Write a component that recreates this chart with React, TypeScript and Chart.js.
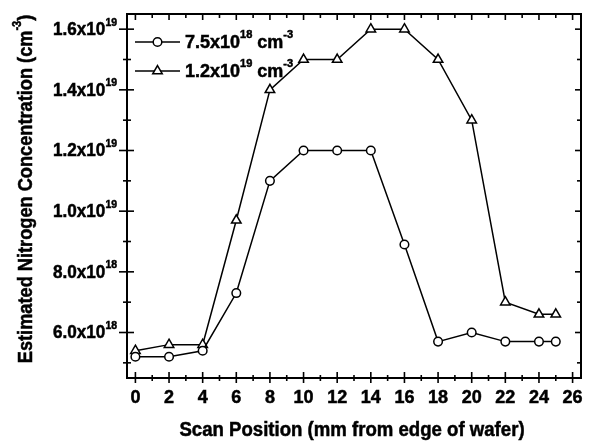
import { useEffect, useRef } from 'react';
import { Chart, registerables } from 'chart.js';

Chart.register(...registerables);

// ---- data ----
const scanPositions = [0, 2, 4, 6, 8, 10, 12, 14, 16, 18, 20, 22, 24, 25];
const conc75e18 = [5.2e18, 5.2e18, 5.4e18, 7.3e18, 1.1e19, 1.2e19, 1.2e19, 1.2e19, 8.9e18, 5.7e18, 6.0e18, 5.7e18, 5.7e18, 5.7e18];
const conc12e19 = [5.4e18, 5.6e18, 5.6e18, 9.7e18, 1.4e19, 1.5e19, 1.5e19, 1.6e19, 1.6e19, 1.5e19, 1.3e19, 7.0e18, 6.6e18, 6.6e18];

const xMajorTicks = [0, 2, 4, 6, 8, 10, 12, 14, 16, 18, 20, 22, 24, 26];
const xMinorTicks = [1, 3, 5, 7, 9, 11, 13, 15, 17, 19, 21, 23, 25];
const yMajorTicks = [6e18, 8e18, 1e19, 1.2e19, 1.4e19, 1.6e19];
const yMinorTicks = [5e18, 7e18, 9e18, 1.1e19, 1.3e19, 1.5e19];
const yTickMantissa = ['6.0x10', '8.0x10', '1.0x10', '1.2x10', '1.4x10', '1.6x10'];
const yTickExponent = ['18', '18', '19', '19', '19', '19'];

const legendMantissa = ['7.5x10', '1.2x10'];
const legendExponent = ['18', '19'];
const xTitle = 'Scan Position (mm from edge of wafer)';
const yTitle = 'Estimated Nitrogen Concentration (cm';

type Part = { t: string; sup?: boolean };

const FONT = '"Liberation Sans", Arial, Helvetica, sans-serif';

function drawRich(
  ctx: CanvasRenderingContext2D,
  parts: Part[],
  x: number,
  y: number,
  align: 'left' | 'right' | 'center',
  base: number,
  supSize: number,
  hScale = 1
) {
  const widths = parts.map((p) => {
    ctx.font = `bold ${p.sup ? supSize : base}px ${FONT}`;
    return ctx.measureText(p.t).width * hScale;
  });
  const total = widths.reduce((a, b) => a + b, 0);
  let cx = align === 'left' ? x : align === 'right' ? x - total : x - total / 2;
  ctx.textBaseline = 'middle';
  ctx.textAlign = 'left';
  parts.forEach((p, i) => {
    ctx.font = `bold ${p.sup ? supSize : base}px ${FONT}`;
    ctx.save();
    ctx.translate(cx, p.sup ? y - base * 0.42 : y);
    ctx.scale(hScale, 1);
    ctx.lineWidth = 0.5;
    ctx.strokeStyle = '#000';
    ctx.fillText(p.t, 0, 0);
    ctx.strokeText(p.t, 0, 0);
    ctx.restore();
    cx += widths[i];
  });
}

function drawMarker(ctx: CanvasRenderingContext2D, style: string, r: number, x: number, y: number) {
  ctx.beginPath();
  if (style === 'circle') {
    ctx.arc(x, y, r, 0, Math.PI * 2);
  } else {
    const a = -Math.PI / 2;
    for (let k = 0; k < 3; k++) {
      const ang = a + (k * 2 * Math.PI) / 3;
      const px = x + Math.cos(ang) * r;
      const py = y + Math.sin(ang) * r;
      if (k === 0) ctx.moveTo(px, py);
      else ctx.lineTo(px, py);
    }
    ctx.closePath();
  }
  ctx.fill();
  ctx.stroke();
}

const framePlugin = {
  id: 'framePlugin',
  afterDraw(chart: any) {
    const { ctx, chartArea } = chart;
    const xs = chart.scales.x;
    const ys = chart.scales.y;
    const { left, right, top, bottom } = chartArea;
    ctx.save();
    ctx.strokeStyle = '#000';
    ctx.fillStyle = '#000';
    ctx.lineWidth = 2;
    ctx.strokeRect(left, top, right - left, bottom - top);

    ctx.lineWidth = 1.6;
    const line = (x1: number, y1: number, x2: number, y2: number) => {
      ctx.beginPath();
      ctx.moveTo(x1, y1);
      ctx.lineTo(x2, y2);
      ctx.stroke();
    };
    xMajorTicks.forEach((v) => {
      const px = xs.getPixelForValue(v);
      line(px, bottom - 6, px, bottom + 5);
      line(px, top, px, top + 6);
    });
    xMinorTicks.forEach((v) => {
      const px = xs.getPixelForValue(v);
      line(px, bottom - 3, px, bottom + 3);
      line(px, top, px, top + 4);
    });
    yMajorTicks.forEach((v) => {
      const py = ys.getPixelForValue(v);
      line(left - 8, py, left + 7, py);
      line(right - 6, py, right, py);
    });
    yMinorTicks.forEach((v) => {
      const py = ys.getPixelForValue(v);
      line(left - 4, py, left + 4, py);
      line(right - 4, py, right, py);
    });

    // x tick labels
    xMajorTicks.forEach((v) => {
      drawRich(ctx, [{ t: String(v) }], xs.getPixelForValue(v), bottom + 20, 'center', 18, 11);
    });

    // y tick labels
    yMajorTicks.forEach((v, i) => {
      drawRich(ctx, [{ t: yTickMantissa[i] }, { t: yTickExponent[i], sup: true }], left - 10, ys.getPixelForValue(v) + 1, 'right', 18, 11, 0.95);
    });

    // x title
    drawRich(ctx, [{ t: xTitle }], (left + right) / 2 - 2, bottom + 52, 'center', 20, 12, 0.93);

    // y title
    ctx.save();
    ctx.translate(26, 189);
    ctx.rotate(-Math.PI / 2);
    drawRich(ctx, [{ t: yTitle }, { t: '-3', sup: true }, { t: ')' }], 0, 0, 'center', 20, 12, 0.91);
    ctx.restore();

    // legend
    const legendRows = [
      { y: 42, style: 'circle', r: 4.3 },
      { y: 71, style: 'triangle', r: 5.5 },
    ];
    legendRows.forEach((row, i) => {
      ctx.lineWidth = 1.5;
      ctx.strokeStyle = '#000';
      line(135, row.y, 180, row.y);
      ctx.fillStyle = '#fff';
      drawMarker(ctx, row.style, row.r, 157.5, row.y);
      ctx.fillStyle = '#000';
      drawRich(
        ctx,
        [{ t: legendMantissa[i] }, { t: legendExponent[i], sup: true }, { t: ' cm' }, { t: '-3', sup: true }],
        185,
        row.y + 1,
        'left',
        18,
        11
      );
    });
    ctx.restore();
  },
};

export default function App() {
  const ref = useRef<HTMLCanvasElement>(null);
  useEffect(() => {
    document.body.style.margin = '0';
    const canvas = ref.current!;
    const mk = (vals: number[]) => scanPositions.map((x, i) => ({ x, y: vals[i] }));
    const chart = new Chart(canvas, {
      type: 'line',
      data: {
        datasets: [
          {
            label: '7.5x10^18 cm^-3',
            data: mk(conc75e18),
            borderColor: '#000',
            borderWidth: 1.5,
            pointStyle: 'circle',
            pointRadius: 4.3,
            pointBackgroundColor: '#fff',
            pointBorderColor: '#000',
            pointBorderWidth: 1.5,
            tension: 0,
          },
          {
            label: '1.2x10^19 cm^-3',
            data: mk(conc12e19),
            borderColor: '#000',
            borderWidth: 1.5,
            pointStyle: 'triangle',
            pointRadius: 5.5,
            pointBackgroundColor: '#fff',
            pointBorderColor: '#000',
            pointBorderWidth: 1.5,
            tension: 0,
          },
        ],
      },
      options: {
        responsive: false,
        animation: false,
        devicePixelRatio: 1,
        layout: { padding: { left: 127, top: 14, right: 8, bottom: 65 } },
        plugins: { legend: { display: false }, tooltip: { enabled: false } },
        scales: {
          x: { type: 'linear', min: -0.5, max: 26.5, display: false },
          y: { type: 'linear', min: 4.5e18, max: 1.65e19, display: false },
        },
      },
      plugins: [framePlugin],
    });
    return () => chart.destroy();
  }, []);
  return (
    <div style={{ position: 'fixed', left: 0, top: 0, width: 589, height: 443, background: '#fff' }}>
      <canvas ref={ref} width={589} height={443} style={{ width: 589, height: 443, display: 'block' }} />
    </div>
  );
}
